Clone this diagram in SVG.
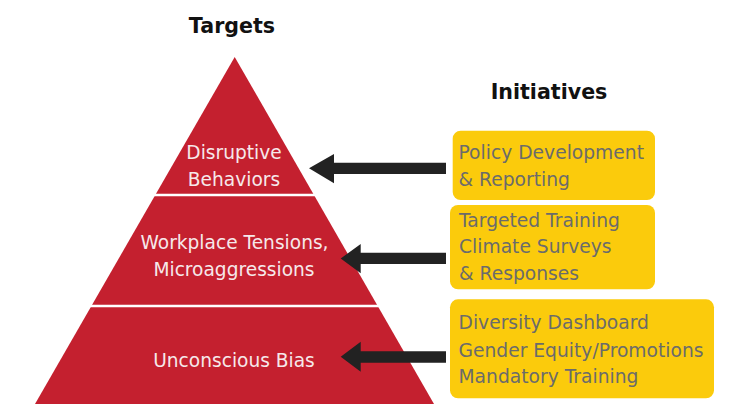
<svg xmlns="http://www.w3.org/2000/svg" width="738" height="404" viewBox="0 0 738 404">
  <style>
    .hdr { font-family: "DejaVu Sans", sans-serif; font-weight: bold; font-size: 20.6px; fill: #111111; text-anchor: middle; }
    .tier { fill: #C4202F; }
    .sep { stroke: #ffffff; stroke-width: 2.6; }
    .tt { font-family: "DejaVu Sans", sans-serif; font-size: 18.6px; fill: #F6E8EA; text-anchor: middle; }
    .box { fill: #FBCB0C; }
    .bt { font-family: "DejaVu Sans", sans-serif; font-size: 18.7px; fill: #6B6B6B; }
    .arrow { fill: #222222; }
  </style>
  <rect width="738" height="404" fill="#ffffff"/>

  <g id="header-targets"><text class="hdr" x="232" y="33.3">Targets</text></g>
  <g id="header-initiatives"><text class="hdr" x="549" y="99.3">Initiatives</text></g>

  <g id="pyramid">
    <polygon class="tier" points="234.7,57 434,404 35,404"/>
    <line class="sep" x1="150" y1="195" x2="320" y2="195"/>
    <line class="sep" x1="86" y1="306" x2="384" y2="306"/>
  </g>

  <g id="tier-disruptive">
    <text class="tt" x="234" y="159">Disruptive</text>
    <text class="tt" x="234" y="185.7">Behaviors</text>
  </g>
  <g id="tier-tensions">
    <text class="tt" x="234.5" y="249.3">Workplace Tensions,</text>
    <text class="tt" x="234" y="275.5">Microaggressions</text>
  </g>
  <g id="tier-bias">
    <text class="tt" x="234" y="366.7">Unconscious Bias</text>
  </g>

  <g id="box-policy">
    <rect class="box" x="452.7" y="130.7" width="202.3" height="69.3" rx="8"/>
    <text class="bt" x="458.5" y="159.3">Policy Development</text>
    <text class="bt" x="458.5" y="186">&amp; Reporting</text>
  </g>
  <g id="box-training">
    <rect class="box" x="450" y="205" width="205" height="84.3" rx="8"/>
    <text class="bt" x="459" y="227.3">Targeted Training</text>
    <text class="bt" x="459" y="253.3">Climate Surveys</text>
    <text class="bt" x="459" y="280">&amp; Responses</text>
  </g>
  <g id="box-diversity">
    <rect class="box" x="450" y="299.3" width="264" height="99" rx="8"/>
    <text class="bt" x="458.5" y="329.3">Diversity Dashboard</text>
    <text class="bt" x="458.5" y="356.7">Gender Equity/Promotions</text>
    <text class="bt" x="458.5" y="382.7">Mandatory Training</text>
  </g>

  <g id="connectors">
    <polygon class="arrow" points="309,168.3 334,154 334,162.7 446,162.7 446,174 334,174 334,183.3"/>
    <polygon class="arrow" points="340.7,258.5 360.7,244 360.7,252.7 446,252.7 446,264 360.7,264 360.7,273.3"/>
    <polygon class="arrow" points="340.7,356.7 360.7,341.7 360.7,351.3 446,351.3 446,362.7 360.7,362.7 360.7,371.7"/>
  </g>
</svg>
